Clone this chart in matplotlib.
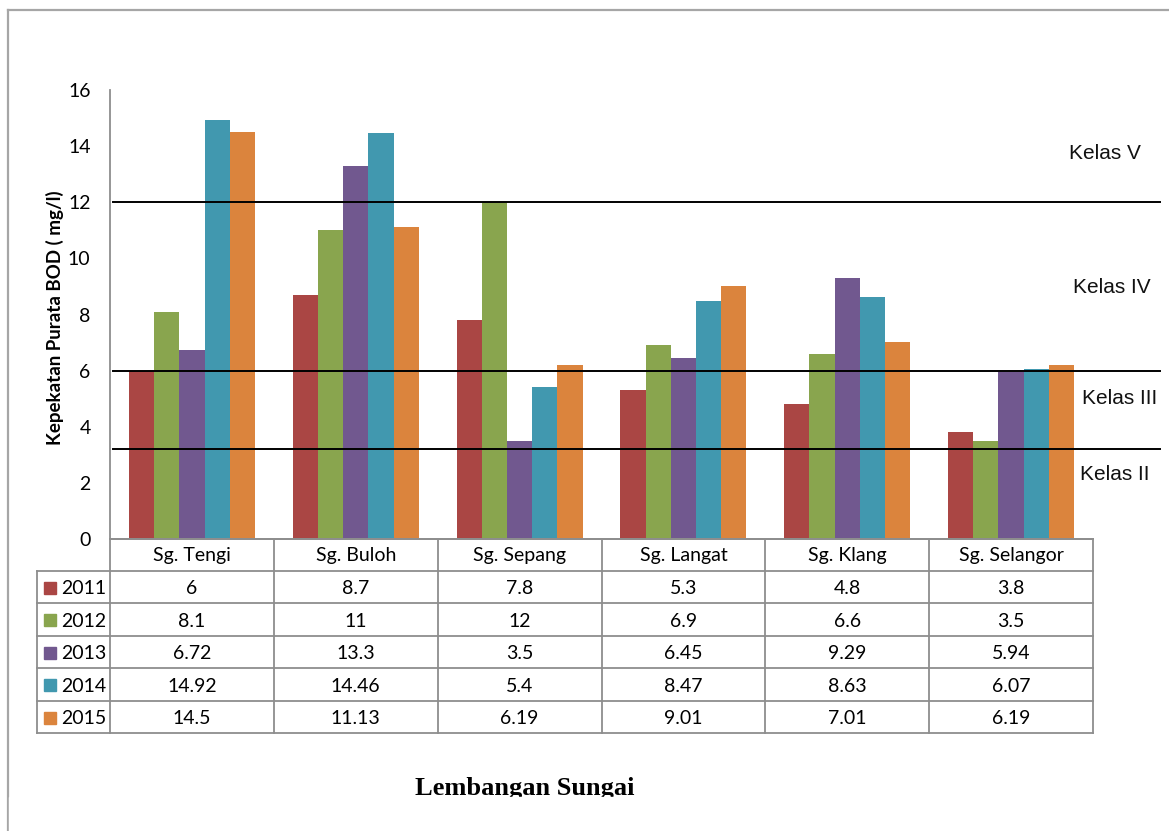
import matplotlib
matplotlib.use("Agg")
import matplotlib.pyplot as plt
from matplotlib.lines import Line2D
from matplotlib.patches import Rectangle

# data
rivers = ["Sg. Tengi", "Sg. Buloh", "Sg. Sepang", "Sg. Langat", "Sg. Klang", "Sg. Selangor"]
years = ["2011", "2012", "2013", "2014", "2015"]
bod_2011 = [6, 8.7, 7.8, 5.3, 4.8, 3.8]
bod_2012 = [8.1, 11, 12, 6.9, 6.6, 3.5]
bod_2013 = [6.72, 13.3, 3.5, 6.45, 9.29, 5.94]
bod_2014 = [14.92, 14.46, 5.4, 8.47, 8.63, 6.07]
bod_2015 = [14.5, 11.13, 6.19, 9.01, 7.01, 6.19]
bod_labels_2011 = ["6", "8.7", "7.8", "5.3", "4.8", "3.8"]
bod_labels_2012 = ["8.1", "11", "12", "6.9", "6.6", "3.5"]
bod_labels_2013 = ["6.72", "13.3", "3.5", "6.45", "9.29", "5.94"]
bod_labels_2014 = ["14.92", "14.46", "5.4", "8.47", "8.63", "6.07"]
bod_labels_2015 = ["14.5", "11.13", "6.19", "9.01", "7.01", "6.19"]
class_limits = [12, 6, 3.2]
class_names = ["Kelas V", "Kelas IV", "Kelas III", "Kelas II"]
class_label_y = [13.75, 8.95, 5.0, 2.3]

series = [bod_2011, bod_2012, bod_2013, bod_2014, bod_2015]
series_labels = [bod_labels_2011, bod_labels_2012, bod_labels_2013, bod_labels_2014, bod_labels_2015]
colors = ["#AA4644", "#89A54E", "#71588F", "#4198AF", "#DB843D"]

W, H = 1169, 831
def fx(x):
    return x / W
def fy(y):
    return 1 - y / H

fig = plt.figure(figsize=(11.69, 8.31), dpi=100)
fig.patch.set_facecolor("white")

ax = fig.add_axes([fx(110), fy(539), 983 / W, 449 / H])

# bars
bw = 0.154
for i, vals in enumerate(series):
    xs = [k + (i - 2) * bw for k in range(len(rivers))]
    ax.bar(xs, vals, width=bw, color=colors[i], zorder=2)

ax.set_xlim(-0.5, len(rivers) - 0.5)
ax.set_ylim(0, 16)
ax.set_yticks(range(0, 17, 2))
ax.set_xticks([])
ax.tick_params(axis="y", length=0, pad=14, labelsize=14)
for lab in ax.get_yticklabels():
    lab.set_fontfamily("Lato")
for s in ["top", "right"]:
    ax.spines[s].set_visible(False)
for s in ["left", "bottom"]:
    ax.spines[s].set_color("#8e8e8e")
    ax.spines[s].set_linewidth(1.3)

# garis kelas
for lim in class_limits:
    ax.axhline(lim, xmin=0.003, xmax=(1160 - 110) / 983, color="black", lw=1.4, clip_on=False, zorder=3)

label_x = [0.9756, 0.9797, 0.9888, 0.9868]
for name, yv, xx in zip(class_names, class_label_y, label_x):
    ax.text(xx, yv, name, transform=ax.get_yaxis_transform(), ha="left", va="center",
            fontsize=15, family="Liberation Sans", color="#111111", clip_on=False)

# y label
fig.text(fx(55), fy(318), "Kepekatan Purata BOD ( mg/l)", rotation=90, ha="center", va="center",
         fontsize=13.5, fontweight="bold", family="Lato")

# jadual data
grid = "#8e8e8e"
col_w = 983 / 6
row_edges = [539, 570.5, 603, 635.5, 668, 700.5, 733]

def hline(y, x0, x1):
    fig.add_artist(Line2D([fx(x0), fx(x1)], [fy(y), fy(y)], color=grid, lw=1.3, transform=fig.transFigure))

def vline(x, y0, y1):
    fig.add_artist(Line2D([fx(x), fx(x)], [fy(y0), fy(y1)], color=grid, lw=1.3, transform=fig.transFigure))

for j, y in enumerate(row_edges):
    if j == 0:
        hline(y, 110, 1093)
    else:
        hline(y, 37, 1093)
for k in range(7):
    vline(110 + k * col_w, 539, 733)
vline(37, 570.5, 733)

for k, name in enumerate(rivers):
    cx = 110 + (k + 0.5) * col_w
    fig.text(fx(cx), fy(556), name, ha="center", va="center", fontsize=14, family="Lato")

for i, labs in enumerate(series_labels):
    cy = (row_edges[i + 1] + row_edges[i + 2]) / 2 + 1
    fig.add_artist(Rectangle((fx(44), fy(cy + 6)), 12 / W, 12 / H, color=colors[i],
                             transform=fig.transFigure))
    fig.text(fx(61), fy(cy + 1), years[i], ha="left", va="center", fontsize=14, family="Lato")
    for k, txt in enumerate(labs):
        cx = 110 + (k + 0.5) * col_w
        fig.text(fx(cx), fy(cy + 1), txt, ha="center", va="center", fontsize=14, family="Lato")

# judul paksi x
fig.text(fx(525), fy(789), "Lembangan Sungai", ha="center", va="center", fontsize=19,
         fontweight="bold", family="Liberation Serif")
fig.add_artist(Rectangle((fx(9), 0), 1, fy(797), color="white", transform=fig.transFigure, zorder=10))

# bingkai
fig.add_artist(Line2D([fx(8), 1], [fy(10), fy(10)], color="#a6a6a6", lw=1.6, transform=fig.transFigure))
fig.add_artist(Line2D([fx(8), fx(8)], [fy(10), 0], color="#a6a6a6", lw=1.6, transform=fig.transFigure))

fig.savefig("out.png", dpi=100, facecolor="white")
